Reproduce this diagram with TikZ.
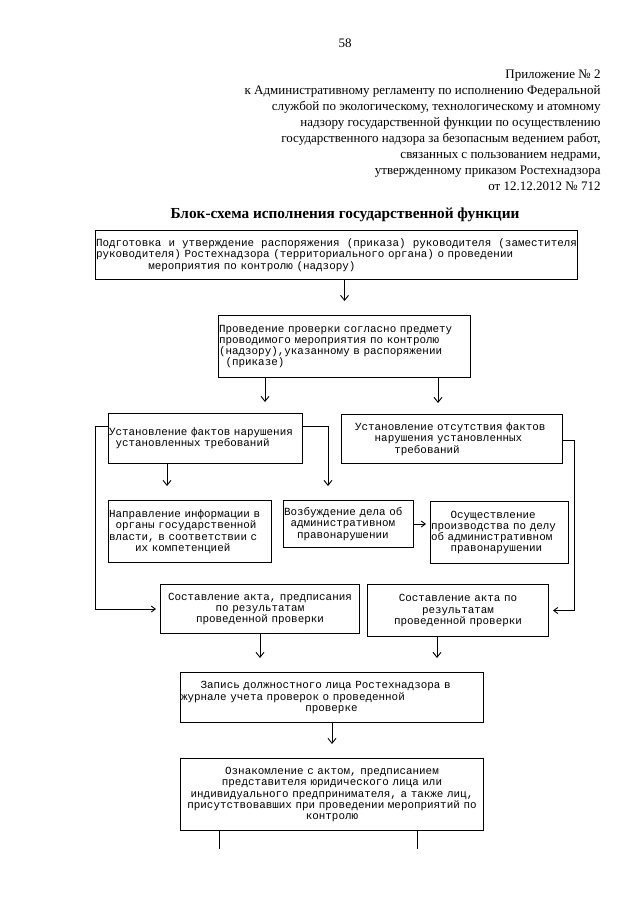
\documentclass[tikz,border=0pt]{standalone}
\usepackage{fontspec}
\setmainfont{Liberation Serif}
\newfontfamily\mono{Liberation Mono}
\usetikzlibrary{arrows.meta,positioning,calc}
\newcommand{\ind}[1]{\hspace*{#1\fontcharwd\font`\0}}
\newcommand{\spread}[1]{\hbox to\hsize{\spaceskip=\fontdimen2\font plus 1fil\relax #1}}

\begin{document}
\begin{tikzpicture}[
  x=1pt, y=-1pt,
  line width=0.9pt,
  stepbox/.style={
    draw,
    line width=1pt,
    anchor=north west,
    inner xsep=0.5pt,
    align=left,
    font=\mono\fontsize{10.9}{11.3}\selectfont
    },
  varr/.style={
    -{Straight Barb[length=5pt,width=8pt,sep=2pt]},
    shorten >=12pt
    },
  harr/.style={
    -{Straight Barb[length=4pt,width=6pt,sep=1pt]},
    shorten >=3pt
    }
]
\useasboundingbox (0,0) rectangle (640,905);

\node[font=\fontsize{13}{16}\selectfont] (page) at (345,43) {58};
\node[anchor=north east,inner sep=0pt,align=right,
  font=\fontsize{13}{16}\selectfont]
  (hdr) at (601,69)
  {Приложение № 2\\
   к Административному регламенту по исполнению Федеральной\\
   службой по экологическому, технологическому и атомному\\
   надзору государственной функции по осуществлению\\
   государственного надзора за безопасным ведением работ,\\
   связанных с пользованием недрами,\\
   утвержденному приказом Ростехнадзора\\
   от 12.12.2012 № 712};
\node[font=\bfseries\fontsize{15.3}{17}\selectfont] (title) at (345,215)
  {Блок-схема исполнения государственной функции};

\node[stepbox,text width=481pt,minimum height=49pt] (b1) at (95,230)
  {\spread{Подготовка и утверждение распоряжения (приказа) руководителя (заместителя}\\
   руководителя) Ростехнадзора (территориального органа) о проведении\\
   \ind{8}мероприятия по контролю (надзору)};
\node[stepbox,text width=251pt,minimum height=62pt] (b2) at (218,315)
  {Проведение проверки согласно предмету\\
   проводимого мероприятия по контролю\\
   (надзору),указанному в распоряжении\\
   \ind{1}(приказе)};
\node[stepbox,text width=193pt,minimum height=50pt] (b3) at (108,413)
  {Установление фактов нарушения\\
   \ind{1}установленных требований};
\node[stepbox,text width=220pt,minimum height=49pt] (b4) at (341,414)
  {\ind{2}Установление отсутствия фактов\\
   \ind{5}нарушения установленных\\
   \ind{8}требований};
\node[stepbox,text width=162pt,minimum height=62pt] (b5) at (108,500)
  {Направление информации в\\
   \ind{1}органы государственной\\
   власти, в соответствии с\\
   \ind{4}их компетенцией};
\node[stepbox,text width=129pt,minimum height=47pt] (b6) at (283,500)
  {Возбуждение дела об\\
   \ind{1}административном\\
   \ind{2}правонарушении};
\node[stepbox,text width=137pt,minimum height=62pt] (b7) at (430,501)
  {\ind{3}Осуществление\\
   производства по делу\\
   об административном\\
   \ind{3}правонарушении};
\node[stepbox,align=center,text width=198pt,minimum height=49pt] (b8) at (160,584)
  {Составление акта, предписания\\
   по результатам\\
   проведенной проверки};
\node[stepbox,align=center,text width=180pt,minimum height=52pt] (b9) at (367,584)
  {Составление акта по\\
   результатам\\
   проведенной проверки};
\node[stepbox,text width=302pt,minimum height=50pt] (b10) at (180,672)
  {\ind{3}Запись должностного лица Ростехнадзора в\\
   журнале учета проверок о проведенной\\
   \ind{19}проверке};
\node[stepbox,align=center,text width=302pt,minimum height=72pt] (b11) at (180,758)
  {Ознакомление с актом, предписанием\\
   представителя юридического лица или\\
   индивидуального предпринимателя, а также лиц,\\
   присутствовавших при проведении мероприятий по\\
   контролю};

\coordinate (p1) at ([xshift=47pt]b2.south west);
\coordinate (p2) at ([xshift=220pt]b2.south west);
\coordinate (p3) at ([xshift=59pt]b3.south west);
\coordinate (p4) at ([yshift=-13pt]b3.north east);
\coordinate (q4) at ([xshift=45pt]b6.north west);
\coordinate (p5) at ([yshift=-13pt]b3.north west);
\coordinate (p6) at ([yshift=-26pt]b4.north east);
\coordinate (p7) at ([xshift=70pt]b9.south west);
\coordinate (t1) at ([xshift=39pt,yshift=-18pt]b11.south west);
\coordinate (t2) at ([xshift=237pt,yshift=-18pt]b11.south west);

\draw[varr] (b2.north |- b1.south) -- (b2.north);
\draw[varr,shorten >=9pt] (p1) -- (p1 |- b3.north);
\draw[varr,shorten >=9pt] (p2) -- (p2 |- b4.north);
\draw[varr] (p3) -- (p3 |- b5.north);
\draw[varr] (p4) -| (q4);
\draw[harr] (p5) -- ++(-13,0) |- (b8.west);
\draw[harr] (p6) -- ++(11,0) |- (b9.east);
\draw[harr] (b6.east) -- (b6.east -| b7.west);
\draw[varr] (b8.south) -- (b8.south |- b10.north);
\draw[varr] (p7) -- (p7 |- b10.north);
\draw[varr] (b10.south) -- (b11.north);
\draw (t1 |- b11.south) -- (t1);
\draw (t2 |- b11.south) -- (t2);
\end{tikzpicture}
\end{document}
